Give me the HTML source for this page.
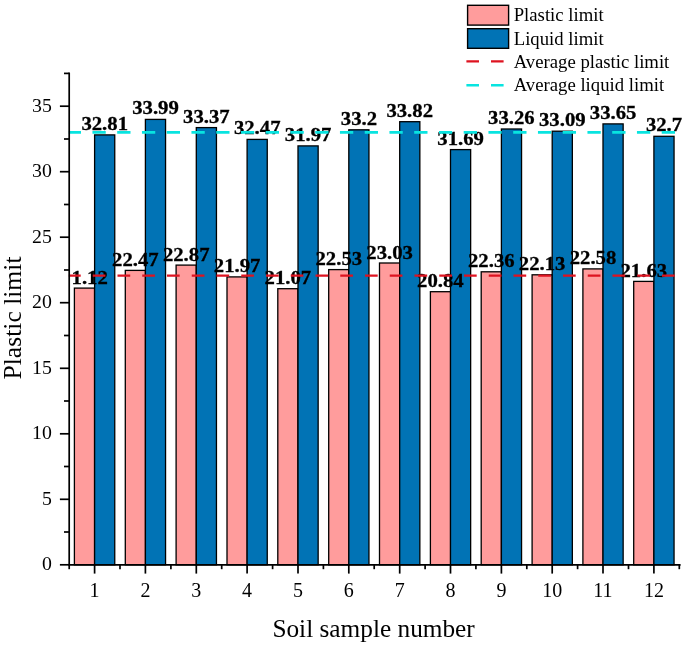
<!DOCTYPE html><html><head><meta charset="utf-8"><title>Chart</title><style>html,body{margin:0;padding:0;background:#fff}svg{display:block}text{font-family:"Liberation Serif","Times New Roman",serif;fill:#000}</style></head><body>
<svg width="685" height="647" viewBox="0 0 685 647">
<rect width="685" height="647" fill="#fff"/>
<defs><clipPath id="cp"><rect x="71.4" y="60" width="615.8" height="520"/></clipPath></defs>
<rect x="74.4" y="288.1" width="20.15" height="276.7" fill="#FF9C9C" stroke="#000" stroke-width="1.3"/>
<rect x="94.6" y="134.9" width="20.15" height="429.9" fill="#0173B5" stroke="#000" stroke-width="1.3"/>
<rect x="125.3" y="270.4" width="20.15" height="294.4" fill="#FF9C9C" stroke="#000" stroke-width="1.3"/>
<rect x="145.4" y="119.4" width="20.15" height="445.4" fill="#0173B5" stroke="#000" stroke-width="1.3"/>
<rect x="176.1" y="265.1" width="20.15" height="299.7" fill="#FF9C9C" stroke="#000" stroke-width="1.3"/>
<rect x="196.3" y="127.6" width="20.15" height="437.2" fill="#0173B5" stroke="#000" stroke-width="1.3"/>
<rect x="227.0" y="276.9" width="20.15" height="287.9" fill="#FF9C9C" stroke="#000" stroke-width="1.3"/>
<rect x="247.1" y="139.4" width="20.15" height="425.4" fill="#0173B5" stroke="#000" stroke-width="1.3"/>
<rect x="277.8" y="288.7" width="20.15" height="276.1" fill="#FF9C9C" stroke="#000" stroke-width="1.3"/>
<rect x="298.0" y="145.9" width="20.15" height="418.9" fill="#0173B5" stroke="#000" stroke-width="1.3"/>
<rect x="328.7" y="269.6" width="20.15" height="295.2" fill="#FF9C9C" stroke="#000" stroke-width="1.3"/>
<rect x="348.8" y="129.8" width="20.15" height="435.0" fill="#0173B5" stroke="#000" stroke-width="1.3"/>
<rect x="379.5" y="263.0" width="20.15" height="301.8" fill="#FF9C9C" stroke="#000" stroke-width="1.3"/>
<rect x="399.7" y="121.7" width="20.15" height="443.1" fill="#0173B5" stroke="#000" stroke-width="1.3"/>
<rect x="430.4" y="291.7" width="20.15" height="273.1" fill="#FF9C9C" stroke="#000" stroke-width="1.3"/>
<rect x="450.5" y="149.6" width="20.15" height="415.2" fill="#0173B5" stroke="#000" stroke-width="1.3"/>
<rect x="481.2" y="271.8" width="20.15" height="293.0" fill="#FF9C9C" stroke="#000" stroke-width="1.3"/>
<rect x="501.4" y="129.0" width="20.15" height="435.8" fill="#0173B5" stroke="#000" stroke-width="1.3"/>
<rect x="532.1" y="274.8" width="20.15" height="290.0" fill="#FF9C9C" stroke="#000" stroke-width="1.3"/>
<rect x="552.2" y="131.2" width="20.15" height="433.6" fill="#0173B5" stroke="#000" stroke-width="1.3"/>
<rect x="582.9" y="268.9" width="20.15" height="295.9" fill="#FF9C9C" stroke="#000" stroke-width="1.3"/>
<rect x="603.0" y="123.9" width="20.15" height="440.9" fill="#0173B5" stroke="#000" stroke-width="1.3"/>
<rect x="633.7" y="281.4" width="20.15" height="283.4" fill="#FF9C9C" stroke="#000" stroke-width="1.3"/>
<rect x="653.9" y="136.3" width="20.15" height="428.5" fill="#0173B5" stroke="#000" stroke-width="1.3"/>
<g clip-path="url(#cp)">
<text transform="translate(84.5,283.6) scale(1.052,1)" font-size="19.7" font-weight="bold" stroke="#000" stroke-width="0.3" text-anchor="middle">21.12</text>
<text transform="translate(104.7,129.9) scale(1.052,1)" font-size="19.7" font-weight="bold" stroke="#000" stroke-width="0.3" text-anchor="middle">32.81</text>
<text transform="translate(135.4,265.9) scale(1.052,1)" font-size="19.7" font-weight="bold" stroke="#000" stroke-width="0.3" text-anchor="middle">22.47</text>
<text transform="translate(155.5,114.4) scale(1.052,1)" font-size="19.7" font-weight="bold" stroke="#000" stroke-width="0.3" text-anchor="middle">33.99</text>
<text transform="translate(186.2,260.6) scale(1.052,1)" font-size="19.7" font-weight="bold" stroke="#000" stroke-width="0.3" text-anchor="middle">22.87</text>
<text transform="translate(206.4,122.6) scale(1.052,1)" font-size="19.7" font-weight="bold" stroke="#000" stroke-width="0.3" text-anchor="middle">33.37</text>
<text transform="translate(237.1,272.4) scale(1.052,1)" font-size="19.7" font-weight="bold" stroke="#000" stroke-width="0.3" text-anchor="middle">21.97</text>
<text transform="translate(257.2,134.4) scale(1.052,1)" font-size="19.7" font-weight="bold" stroke="#000" stroke-width="0.3" text-anchor="middle">32.47</text>
<text transform="translate(287.9,284.2) scale(1.052,1)" font-size="19.7" font-weight="bold" stroke="#000" stroke-width="0.3" text-anchor="middle">21.07</text>
<text transform="translate(308.1,140.9) scale(1.052,1)" font-size="19.7" font-weight="bold" stroke="#000" stroke-width="0.3" text-anchor="middle">31.97</text>
<text transform="translate(338.8,265.1) scale(1.052,1)" font-size="19.7" font-weight="bold" stroke="#000" stroke-width="0.3" text-anchor="middle">22.53</text>
<text transform="translate(358.9,124.8) scale(1.052,1)" font-size="19.7" font-weight="bold" stroke="#000" stroke-width="0.3" text-anchor="middle">33.2</text>
<text transform="translate(389.6,258.5) scale(1.052,1)" font-size="19.7" font-weight="bold" stroke="#000" stroke-width="0.3" text-anchor="middle">23.03</text>
<text transform="translate(409.7,116.7) scale(1.052,1)" font-size="19.7" font-weight="bold" stroke="#000" stroke-width="0.3" text-anchor="middle">33.82</text>
<text transform="translate(440.4,287.2) scale(1.052,1)" font-size="19.7" font-weight="bold" stroke="#000" stroke-width="0.3" text-anchor="middle">20.84</text>
<text transform="translate(460.6,144.6) scale(1.052,1)" font-size="19.7" font-weight="bold" stroke="#000" stroke-width="0.3" text-anchor="middle">31.69</text>
<text transform="translate(491.3,267.3) scale(1.052,1)" font-size="19.7" font-weight="bold" stroke="#000" stroke-width="0.3" text-anchor="middle">22.36</text>
<text transform="translate(511.4,124.0) scale(1.052,1)" font-size="19.7" font-weight="bold" stroke="#000" stroke-width="0.3" text-anchor="middle">33.26</text>
<text transform="translate(542.1,270.3) scale(1.052,1)" font-size="19.7" font-weight="bold" stroke="#000" stroke-width="0.3" text-anchor="middle">22.13</text>
<text transform="translate(562.3,126.2) scale(1.052,1)" font-size="19.7" font-weight="bold" stroke="#000" stroke-width="0.3" text-anchor="middle">33.09</text>
<text transform="translate(593.0,264.4) scale(1.052,1)" font-size="19.7" font-weight="bold" stroke="#000" stroke-width="0.3" text-anchor="middle">22.58</text>
<text transform="translate(613.1,118.9) scale(1.052,1)" font-size="19.7" font-weight="bold" stroke="#000" stroke-width="0.3" text-anchor="middle">33.65</text>
<text transform="translate(643.8,276.9) scale(1.052,1)" font-size="19.7" font-weight="bold" stroke="#000" stroke-width="0.3" text-anchor="middle">21.63</text>
<text transform="translate(664.0,131.3) scale(1.052,1)" font-size="19.7" font-weight="bold" stroke="#000" stroke-width="0.3" text-anchor="middle">32.7</text>
</g>
<line x1="68.8" x2="679.8" y1="275.7" y2="275.7" stroke="#DE1320" stroke-width="2.2" stroke-dasharray="12.7 12.05" stroke-dashoffset="0.8"/>
<line x1="68.8" x2="679.8" y1="132.4" y2="132.4" stroke="#08E4E0" stroke-width="2.7" stroke-dasharray="13.3 11.45" stroke-dashoffset="1.1"/>
<path d="M69.2 72.6V564.8H680.6" fill="none" stroke="#000" stroke-width="1.7"/>
<line x1="59.9" x2="69.2" y1="564.8" y2="564.8" stroke="#000" stroke-width="1.7"/>
<text x="51.9" y="570.3" font-size="19.8" text-anchor="end">0</text>
<line x1="59.9" x2="69.2" y1="499.3" y2="499.3" stroke="#000" stroke-width="1.7"/>
<text x="51.9" y="504.8" font-size="19.8" text-anchor="end">5</text>
<line x1="59.9" x2="69.2" y1="433.8" y2="433.8" stroke="#000" stroke-width="1.7"/>
<text x="51.9" y="439.3" font-size="19.8" text-anchor="end">10</text>
<line x1="59.9" x2="69.2" y1="368.3" y2="368.3" stroke="#000" stroke-width="1.7"/>
<text x="51.9" y="373.8" font-size="19.8" text-anchor="end">15</text>
<line x1="59.9" x2="69.2" y1="302.7" y2="302.7" stroke="#000" stroke-width="1.7"/>
<text x="51.9" y="308.2" font-size="19.8" text-anchor="end">20</text>
<line x1="59.9" x2="69.2" y1="237.2" y2="237.2" stroke="#000" stroke-width="1.7"/>
<text x="51.9" y="242.7" font-size="19.8" text-anchor="end">25</text>
<line x1="59.9" x2="69.2" y1="171.7" y2="171.7" stroke="#000" stroke-width="1.7"/>
<text x="51.9" y="177.2" font-size="19.8" text-anchor="end">30</text>
<line x1="59.9" x2="69.2" y1="106.2" y2="106.2" stroke="#000" stroke-width="1.7"/>
<text x="51.9" y="111.7" font-size="19.8" text-anchor="end">35</text>
<line x1="64.0" x2="69.2" y1="532.0" y2="532.0" stroke="#000" stroke-width="1.7"/>
<line x1="64.0" x2="69.2" y1="466.5" y2="466.5" stroke="#000" stroke-width="1.7"/>
<line x1="64.0" x2="69.2" y1="401.0" y2="401.0" stroke="#000" stroke-width="1.7"/>
<line x1="64.0" x2="69.2" y1="335.5" y2="335.5" stroke="#000" stroke-width="1.7"/>
<line x1="64.0" x2="69.2" y1="270.0" y2="270.0" stroke="#000" stroke-width="1.7"/>
<line x1="64.0" x2="69.2" y1="204.5" y2="204.5" stroke="#000" stroke-width="1.7"/>
<line x1="64.0" x2="69.2" y1="139.0" y2="139.0" stroke="#000" stroke-width="1.7"/>
<line x1="64.0" x2="69.2" y1="73.4" y2="73.4" stroke="#000" stroke-width="1.7"/>
<line x1="94.6" x2="94.6" y1="564.8" y2="573.5999999999999" stroke="#000" stroke-width="1.7"/>
<text x="94.6" y="596.8" font-size="20" text-anchor="middle">1</text>
<line x1="145.4" x2="145.4" y1="564.8" y2="573.5999999999999" stroke="#000" stroke-width="1.7"/>
<text x="145.4" y="596.8" font-size="20" text-anchor="middle">2</text>
<line x1="196.3" x2="196.3" y1="564.8" y2="573.5999999999999" stroke="#000" stroke-width="1.7"/>
<text x="196.3" y="596.8" font-size="20" text-anchor="middle">3</text>
<line x1="247.1" x2="247.1" y1="564.8" y2="573.5999999999999" stroke="#000" stroke-width="1.7"/>
<text x="247.1" y="596.8" font-size="20" text-anchor="middle">4</text>
<line x1="298.0" x2="298.0" y1="564.8" y2="573.5999999999999" stroke="#000" stroke-width="1.7"/>
<text x="298.0" y="596.8" font-size="20" text-anchor="middle">5</text>
<line x1="348.8" x2="348.8" y1="564.8" y2="573.5999999999999" stroke="#000" stroke-width="1.7"/>
<text x="348.8" y="596.8" font-size="20" text-anchor="middle">6</text>
<line x1="399.7" x2="399.7" y1="564.8" y2="573.5999999999999" stroke="#000" stroke-width="1.7"/>
<text x="399.7" y="596.8" font-size="20" text-anchor="middle">7</text>
<line x1="450.5" x2="450.5" y1="564.8" y2="573.5999999999999" stroke="#000" stroke-width="1.7"/>
<text x="450.5" y="596.8" font-size="20" text-anchor="middle">8</text>
<line x1="501.4" x2="501.4" y1="564.8" y2="573.5999999999999" stroke="#000" stroke-width="1.7"/>
<text x="501.4" y="596.8" font-size="20" text-anchor="middle">9</text>
<line x1="552.2" x2="552.2" y1="564.8" y2="573.5999999999999" stroke="#000" stroke-width="1.7"/>
<text x="552.2" y="596.8" font-size="20" text-anchor="middle">10</text>
<line x1="603.0" x2="603.0" y1="564.8" y2="573.5999999999999" stroke="#000" stroke-width="1.7"/>
<text x="603.0" y="596.8" font-size="20" text-anchor="middle">11</text>
<line x1="653.9" x2="653.9" y1="564.8" y2="573.5999999999999" stroke="#000" stroke-width="1.7"/>
<text x="653.9" y="596.8" font-size="20" text-anchor="middle">12</text>
<line x1="69.2" x2="69.2" y1="564.8" y2="569.1999999999999" stroke="#000" stroke-width="1.7"/>
<line x1="120.0" x2="120.0" y1="564.8" y2="569.1999999999999" stroke="#000" stroke-width="1.7"/>
<line x1="170.9" x2="170.9" y1="564.8" y2="569.1999999999999" stroke="#000" stroke-width="1.7"/>
<line x1="221.7" x2="221.7" y1="564.8" y2="569.1999999999999" stroke="#000" stroke-width="1.7"/>
<line x1="272.6" x2="272.6" y1="564.8" y2="569.1999999999999" stroke="#000" stroke-width="1.7"/>
<line x1="323.4" x2="323.4" y1="564.8" y2="569.1999999999999" stroke="#000" stroke-width="1.7"/>
<line x1="374.2" x2="374.2" y1="564.8" y2="569.1999999999999" stroke="#000" stroke-width="1.7"/>
<line x1="425.1" x2="425.1" y1="564.8" y2="569.1999999999999" stroke="#000" stroke-width="1.7"/>
<line x1="475.9" x2="475.9" y1="564.8" y2="569.1999999999999" stroke="#000" stroke-width="1.7"/>
<line x1="526.8" x2="526.8" y1="564.8" y2="569.1999999999999" stroke="#000" stroke-width="1.7"/>
<line x1="577.6" x2="577.6" y1="564.8" y2="569.1999999999999" stroke="#000" stroke-width="1.7"/>
<line x1="628.5" x2="628.5" y1="564.8" y2="569.1999999999999" stroke="#000" stroke-width="1.7"/>
<line x1="679.3" x2="679.3" y1="564.8" y2="569.1999999999999" stroke="#000" stroke-width="1.7"/>
<text x="373.6" y="637" font-size="25.3" text-anchor="middle">Soil sample number</text>
<text transform="translate(21,318) rotate(-90)" font-size="25.6" text-anchor="middle">Plastic limit</text>
<rect x="467.6" y="5.3" width="41" height="19.8" fill="#FF9C9C" stroke="#000" stroke-width="1.4"/>
<rect x="467.6" y="28.7" width="41" height="19.6" fill="#0173B5" stroke="#000" stroke-width="1.4"/>
<line x1="466.4" x2="504" y1="61.3" y2="61.3" stroke="#DE1320" stroke-width="2.2" stroke-dasharray="12.6 12"/>
<line x1="466.4" x2="504" y1="85.3" y2="85.3" stroke="#08E4E0" stroke-width="2.4" stroke-dasharray="12.6 12"/>
<text transform="translate(513.7,21.1) scale(1.012,1)" font-size="18.5">Plastic limit</text>
<text transform="translate(513.7,44.9) scale(1.012,1)" font-size="18.5">Liquid limit</text>
<text transform="translate(513.7,68.1) scale(1.012,1)" font-size="18.5">Average plastic limit</text>
<text transform="translate(513.7,91) scale(1.012,1)" font-size="18.5">Average liquid limit</text>
</svg></body></html>
